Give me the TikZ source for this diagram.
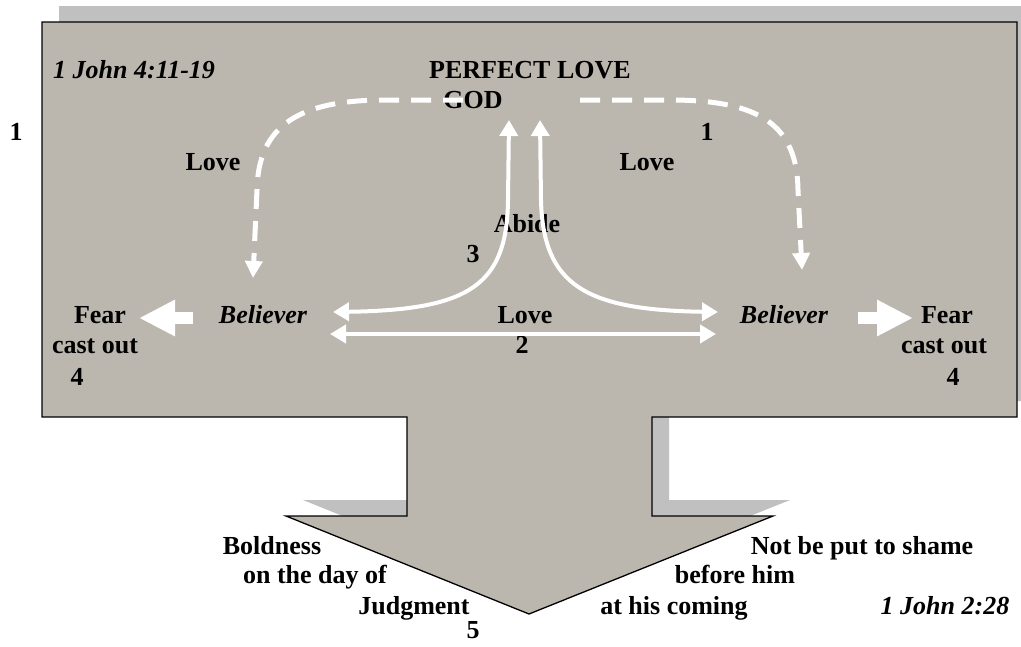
\documentclass[tikz,border=0pt]{standalone}
\usepackage{fontspec}
\setmainfont{Liberation Serif}
\usetikzlibrary{arrows.meta}
\definecolor{boxgray}{RGB}{187,182,174}
\definecolor{shadowgray}{RGB}{192,192,192}
\begin{document}
\begin{tikzpicture}[x=1pt, y=-1pt,
    lbl/.style={anchor=base, inner sep=0pt, font=\fontsize{26}{30}\selectfont\bfseries},
    ilbl/.style={lbl, font=\fontsize{26}{30}\selectfont\bfseries\itshape},
    dasharrow/.style={white, line width=5pt, dash pattern=on 20pt off 12pt, -{Triangle[length=17pt,width=17pt]}},
    abidearrow/.style={white, line width=4pt, {Triangle[length=16pt,width=18pt]}-{Triangle[length=16pt,width=18pt]}},
    fatarrow/.style={white, line width=12pt, -{Triangle[length=36pt,width=34pt]}}]
  \useasboundingbox (0,0) rectangle (1021,646);
  \def\outline{(42,22) -- (1017,22) -- (1017,417) -- (652,417) -- (652,516) -- (773,516) -- (529,614) -- (286,516) -- (407,516) -- (407,417) -- (42,417) -- cycle}
  \fill[shadowgray, shift={(17,-16)}] \outline;
  \filldraw[fill=boxgray, draw=black, line width=1.3pt] \outline;
  % texts
  \node[ilbl, anchor=base west] (ref1) at (53,78) {1 John 4:11-19};
  \node[lbl] (perfect) at (530,78) {PERFECT LOVE};
  \node[lbl] (god) at (473,108) {GOD};
  \node[lbl] (numL) at (16,140) {1};
  \node[lbl] (loveL) at (213,170) {Love};
  \node[lbl] (numR) at (707,140) {1};
  \node[lbl] (loveR) at (647,170) {Love};
  \node[lbl] (abide) at (527,232) {Abide};
  \node[lbl] (num3) at (473,262) {3};
  \node[ilbl] (believerL) at (263,323) {Believer};
  \node[lbl] (fearL) at (100,323) {Fear};
  \node[lbl] (castL) at (95,353) {cast out};
  \node[lbl] (num4L) at (77,385) {4};
  \node[lbl] (loveM) at (525,323) {Love};
  \node[lbl] (num2) at (522,353) {2};
  \node[ilbl] (believerR) at (784,323) {Believer};
  \node[lbl] (fearR) at (947,323) {Fear};
  \node[lbl] (castR) at (944,353) {cast out};
  \node[lbl] (num4R) at (953,385) {4};
  \node[lbl] (bold1) at (272,554) {Boldness};
  \node[lbl] (bold2) at (315,583) {on the day of};
  \node[lbl] (bold3) at (414,614) {Judgment};
  \node[lbl] (num5) at (473,638) {5};
  \node[lbl] (shame1) at (862,554) {Not be put to shame};
  \node[lbl] (shame2) at (735,583) {before him};
  \node[lbl] (shame3) at (674,614) {at his coming};
  \node[ilbl] (ref2) at (945,614) {1 John 2:28};
  % arrow ends
  \coordinate (godDL) at (463,100);
  \coordinate (godDR) at (580,100);
  \coordinate (godAL) at (509,120);
  \coordinate (godAR) at (540,120);
  \coordinate (belDL) at (253,278);
  \coordinate (belDR) at (802,270);
  \coordinate (belAL) at (333,312);
  \coordinate (belAR) at (718,312);
  \coordinate (belLL) at (330,334);
  \coordinate (belLR) at (716,334);
  % love from God (dashed)
  \draw[dasharrow] (godDL) -- (385,100) .. controls (300,100) and (258,125) .. (257,190) -- (belDL);
  \draw[dasharrow] (godDR) -- (670,100) .. controls (760,100) and (797,125) .. (798,190) -- (belDR);
  % abide
  \draw[abidearrow] (belAL) .. controls (470,310) and (507,285) .. (508,200) -- (godAL);
  \draw[abidearrow] (godAR) -- (541,200) .. controls (543,285) and (585,310) .. (belAR);
  % love one another
  \draw[abidearrow] (belLL) -- (belLR);
  % fear cast out
  \draw[fatarrow] (193,318) -- (139,318);
  \draw[fatarrow] (858,318) -- (913,318);
\end{tikzpicture}
\end{document}
